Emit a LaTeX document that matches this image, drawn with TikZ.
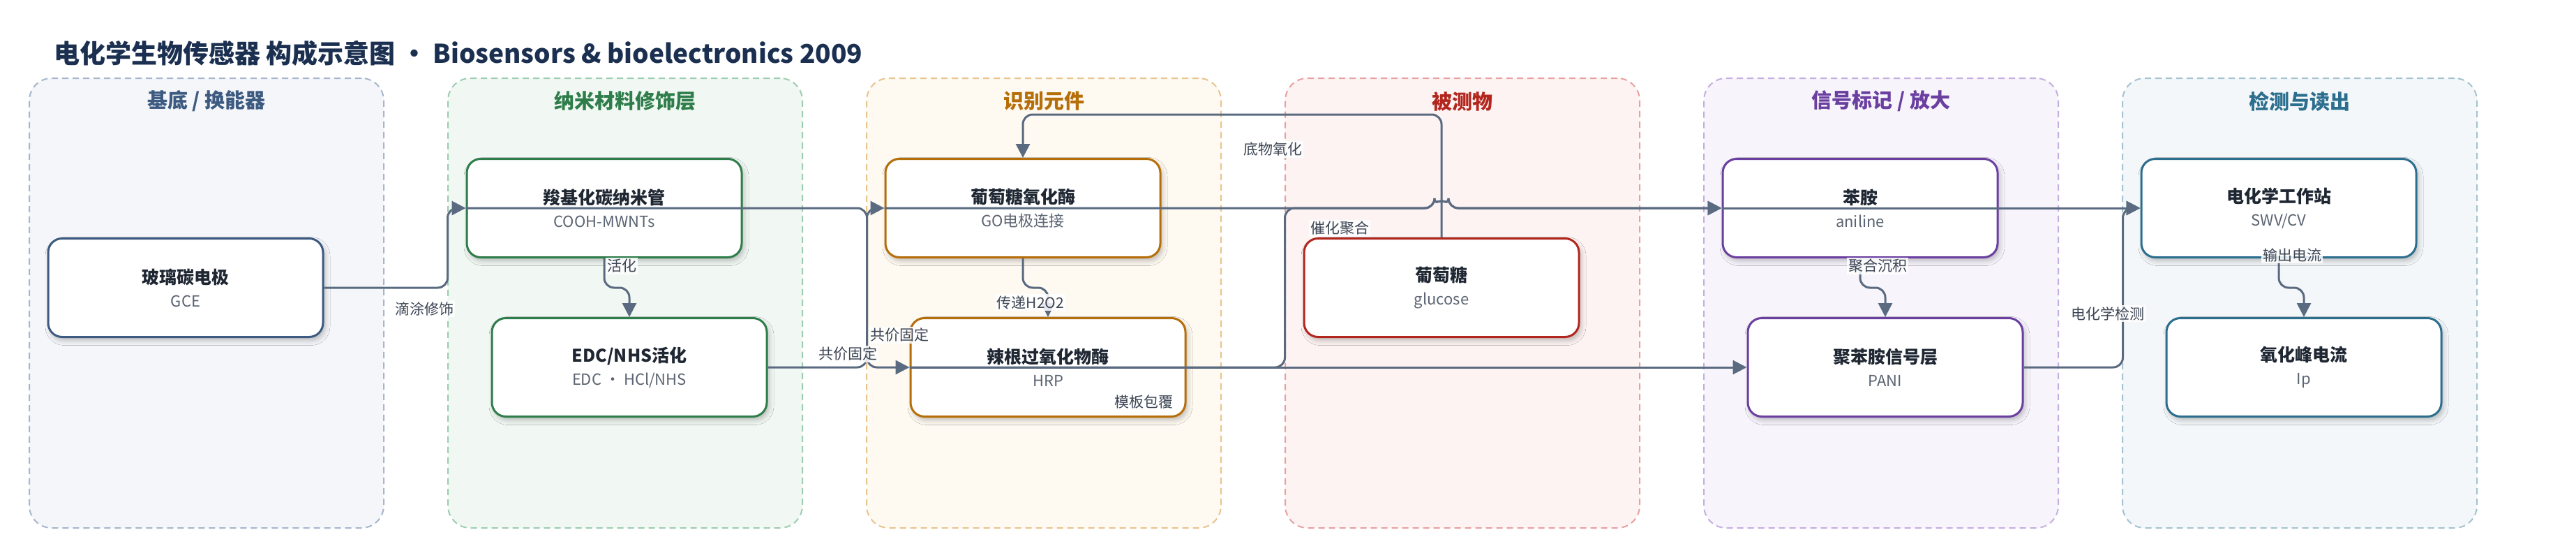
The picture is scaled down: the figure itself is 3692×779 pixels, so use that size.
\documentclass[tikz,border=0pt]{standalone}
\usepackage{fontspec}
\setmainfont{Noto Sans CJK SC}
\usetikzlibrary{positioning, arrows.meta, shadows.blur}

\definecolor{titlec}{HTML}{1B3050}
\definecolor{txtdark}{HTML}{1F2733}
\definecolor{txtsub}{HTML}{5B6472}
\definecolor{lblc}{HTML}{3C4554}
\definecolor{linkc}{HTML}{5A6A80}
% panel colours: main / fill / dashed border
\definecolor{c1}{HTML}{3D5A80}\definecolor{bg1}{HTML}{F4F6FA}\definecolor{bd1}{HTML}{A7B6CC}
\definecolor{c2}{HTML}{2E7D4A}\definecolor{bg2}{HTML}{F1F8F3}\definecolor{bd2}{HTML}{9CCDB0}
\definecolor{c3}{HTML}{B66E09}\definecolor{bg3}{HTML}{FEF9F1}\definecolor{bd3}{HTML}{E8C48F}
\definecolor{c4}{HTML}{B3261E}\definecolor{bg4}{HTML}{FDF3F3}\definecolor{bd4}{HTML}{E9A0A0}
\definecolor{c5}{HTML}{6A3FA0}\definecolor{bg5}{HTML}{F7F4FC}\definecolor{bd5}{HTML}{C5AEE0}
\definecolor{c6}{HTML}{2C6E8E}\definecolor{bg6}{HTML}{F3F7F9}\definecolor{bd6}{HTML}{A4C3D0}

\newcommand{\ntitle}[1]{{\bfseries\color{txtdark}#1}}
\newcommand{\nsub}[1]{{\fontsize{22}{26}\selectfont\color{txtsub}#1}}

\begin{document}
\begin{tikzpicture}[
  x=1pt, y=-1pt,
  panel/.style={draw=#1, dash pattern=on 9pt off 6pt, line width=2pt, rounded corners=32pt,
    minimum width=508pt, minimum height=644pt, inner sep=0pt},
  ptitle/.style={text=#1, font=\bfseries\fontsize{29}{34}\selectfont, inner sep=0pt},
  nodebox/.style={rectangle, draw=#1, rounded corners=20pt, line width=3pt, fill=white,
    minimum width=394pt, minimum height=141pt, align=center, font=\fontsize{25}{30}\selectfont,
    blur shadow={shadow xshift=3pt, shadow yshift=-5pt, shadow blur radius=7pt, shadow opacity=25}},
  link/.style={draw=linkc, line width=3pt, rounded corners=14pt, -{Triangle[length=20pt, width=20pt]}},
  lbl/.style={fill=white, fill opacity=0.85, text opacity=1, inner sep=2pt, text=lblc,
    font=\fontsize{21}{24}\selectfont}
]
\useasboundingbox (0,0) rectangle (3692,779);
\fill[white] (0,0) rectangle (3692,779);

% Title
\node[anchor=west, inner sep=0pt, text=titlec, font=\bfseries\fontsize{37}{42}\selectfont] (title) at (77,76)
  {电化学生物传感器 构成示意图 · Biosensors \& bioelectronics 2009};

% Panels
\node[panel=bd1, fill=bg1] (psub) at (296,434) {};
\node[panel=bd2, fill=bg2] (pnano) at (896,434) {};
\node[panel=bd3, fill=bg3] (prec) at (1496,434) {};
\node[panel=bd4, fill=bg4] (pana) at (2096,434) {};
\node[panel=bd5, fill=bg5] (psig) at (2696,434) {};
\node[panel=bd6, fill=bg6] (pdet) at (3296,434) {};

\node[ptitle=c1] (tsub) at (296,145) {基底 / 换能器};
\node[ptitle=c2] (tnano) at (896,145) {纳米材料修饰层};
\node[ptitle=c3] (trec) at (1496,145) {识别元件};
\node[ptitle=c4] (tana) at (2096,145) {被测物};
\node[ptitle=c5] (tsig) at (2696,145) {信号标记 / 放大};
\node[ptitle=c6] (tdet) at (3296,145) {检测与读出};

% Nodes
\node[nodebox=c1] (gce) at (266,412) {\ntitle{玻璃碳电极}\\[3pt]\nsub{GCE}};
\node[nodebox=c2] (cnt) at (866,298) {\ntitle{羧基化碳纳米管}\\[3pt]\nsub{COOH-MWNTs}};
\node[nodebox=c2] (edc) at (902,526) {\ntitle{EDC/NHS活化}\\[3pt]\nsub{EDC · HCl/NHS}};
\node[nodebox=c3] (gox) at (1466,298) {\ntitle{葡萄糖氧化酶}\\[3pt]\nsub{GO电极连接}};
\node[nodebox=c3] (hrp) at (1502,526) {\ntitle{辣根过氧化物酶}\\[3pt]\nsub{HRP}};
\node[nodebox=c4] (glu) at (2066,412) {\ntitle{葡萄糖}\\[3pt]\nsub{glucose}};
\node[nodebox=c5] (ani) at (2666,298) {\ntitle{苯胺}\\[3pt]\nsub{aniline}};
\node[nodebox=c5] (pani) at (2702,526) {\ntitle{聚苯胺信号层}\\[3pt]\nsub{PANI}};
\node[nodebox=c6] (sta) at (3266,298) {\ntitle{电化学工作站}\\[3pt]\nsub{SWV/CV}};
\node[nodebox=c6] (ip) at (3302,526) {\ntitle{氧化峰电流}\\[3pt]\nsub{Ip}};

% Connectors
\coordinate (hopL) at (2056,298);   % hop over the glucose line
\draw[link] (gce.east) -- ++(177,0) |- (cnt.west);
\draw[link] (cnt.south) -- ++(0,42) -| (edc.north);
\draw[link] (edc.east) -- ++(142,0) |- (gox.west);
\draw[link] (cnt.west) -- ++(575,0) |- (hrp.west);
\draw[link] (gox.south) -- ++(0,42) -| (hrp.north);
\draw[link] (glu.north) -- ++(0,-176) -| (gox.north);
\draw[link] (gox.west) -- (hopL) arc[start angle=180, end angle=0, radius=10pt] -- (ani.west);
\draw[link] (hrp.west) -- ++(538,0) |- (hopL) arc[start angle=180, end angle=0, radius=10pt] -- (ani.west);
\draw[link] (hrp.west) -- (pani.west);
\draw[link] (ani.west) -- (sta.west);
\draw[link] (ani.south) -- ++(0,42) -| (pani.north);
\draw[link] (pani.east) -- ++(142,0) |- (sta.west);
\draw[link] (sta.south) -- ++(0,42) -| (ip.north);

% Connector labels
\node[lbl] (lcoat) at (608,442) {滴涂修饰};
\node[lbl] (lact) at (891,381) {活化};
\node[lbl] (lfixa) at (1215,507) {共价固定};
\node[lbl] (lfixb) at (1289,480) {共价固定};
\node[lbl] (lperox) at (1477,433) {传递H2O2};
\node[lbl] (loxid) at (1824,214) {底物氧化};
\node[lbl] (lcat) at (1920,327) {催化聚合};
\node[lbl] (ltemp) at (1639,575) {模板包覆};
\node[lbl] (lpoly) at (2691,381) {聚合沉积};
\node[lbl] (ldet) at (3021,449) {电化学检测};
\node[lbl] (lout) at (3285,365) {输出电流};

\end{tikzpicture}
\end{document}
